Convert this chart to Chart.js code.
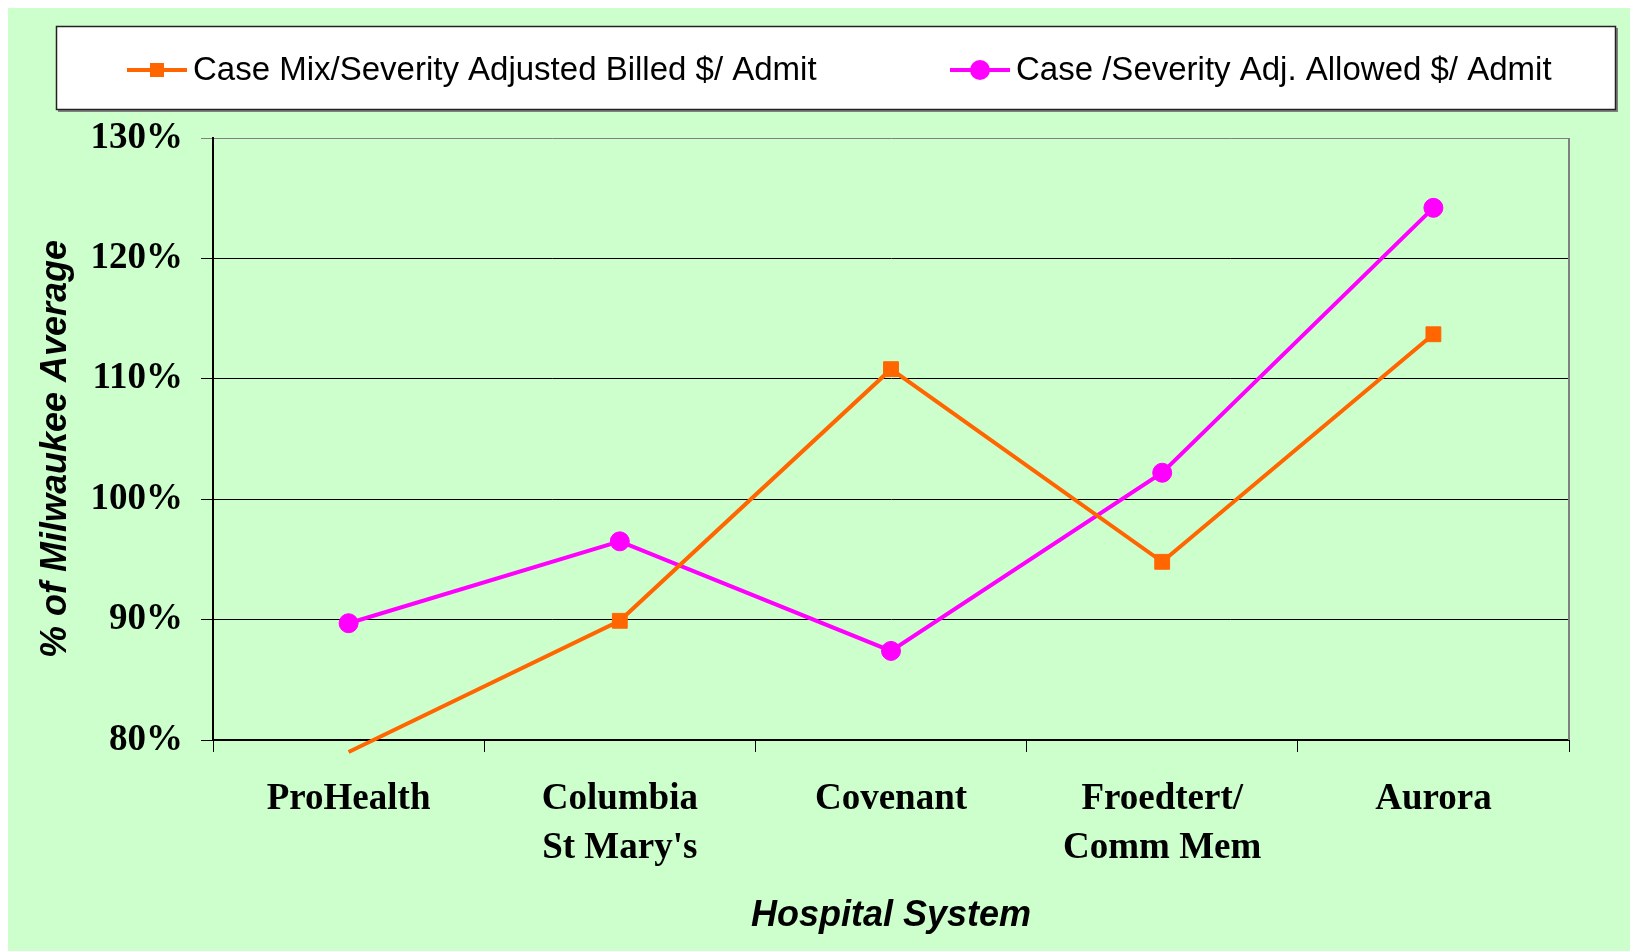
<!DOCTYPE html>
<html lang="en">
<head>
<meta charset="UTF-8" />
<title>Hospital System - % of Milwaukee Average</title>
<script src="https://cdn.jsdelivr.net/npm/chart.js"></script>
<style>
  html, body { margin: 0; padding: 0; background: #fff; }
  canvas { display: block; }
</style>
</head>
<body>
<canvas id="chart" width="1630" height="951"></canvas>
<script>
// data (% of Milwaukee average)
const hospitals = ["ProHealth", ["Columbia", "St Mary's"], "Covenant", ["Froedtert/", "Comm Mem"], "Aurora"];
const billedPerAdmit = [79.0, 89.9, 110.8, 94.8, 113.7];
const allowedPerAdmit = [89.7, 96.5, 87.4, 102.2, 124.2];
const yTicks = [80, 90, 100, 110, 120, 130];
const seriesNames = ["Case Mix/Severity Adjusted Billed $/ Admit", "Case /Severity Adj. Allowed $/ Admit"];

const GREEN = "#CCFFCC";
const ORANGE = "#FF6600";
const MAGENTA = "#FF00FF";
const serif = "'Liberation Serif', 'Times New Roman', serif";
const sans = "'Liberation Sans', Arial, sans-serif";

Chart.defaults.color = "#000";

// green page + grey plot border on the right
const background = {
  id: "background",
  beforeDraw(chart) {
    const ctx = chart.ctx;
    ctx.save();
    ctx.fillStyle = "#fff";
    ctx.fillRect(0, 0, chart.width, chart.height);
    ctx.fillStyle = GREEN;
    ctx.fillRect(8, 8, chart.width - 8, chart.height - 8);
    ctx.restore();
  },
  beforeDatasetsDraw(chart) {
    const { ctx, chartArea } = chart;
    ctx.save();
    ctx.strokeStyle = "#808080";
    ctx.lineWidth = 2;
    ctx.beginPath();
    ctx.moveTo(chartArea.right, chartArea.top);
    ctx.lineTo(chartArea.right, chartArea.bottom);
    ctx.stroke();
    ctx.restore();
  }
};

// boxed legend across the top, line + marker like the original
const legendBox = {
  id: "legendBox",
  afterDraw(chart) {
    const ctx = chart.ctx;
    ctx.save();
    ctx.fillStyle = "#808080";
    ctx.fillRect(58, 28, 1560, 84);
    ctx.fillStyle = "#fff";
    ctx.fillRect(56, 26, 1560, 84);
    ctx.strokeStyle = "#222";
    ctx.lineWidth = 1.5;
    ctx.strokeRect(56.5, 26.5, 1559, 83);

    const starts = [127, 950];
    const y = 70;
    chart.data.datasets.forEach((ds, i) => {
      const x = starts[i];
      ctx.strokeStyle = ds.borderColor;
      ctx.lineWidth = 4;
      ctx.beginPath();
      ctx.moveTo(x, y);
      ctx.lineTo(x + 60, y);
      ctx.stroke();
      ctx.fillStyle = ds.borderColor;
      if (ds.pointStyle === "rect") {
        ctx.fillRect(x + 23, y - 7, 14, 14);
      } else {
        ctx.beginPath();
        ctx.arc(x + 30, y, 10, 0, Math.PI * 2);
        ctx.fill();
      }
      ctx.fillStyle = "#000";
      ctx.font = "33px " + sans;
      ctx.textBaseline = "middle";
      ctx.textAlign = "left";
      ctx.fillText(ds.label, x + 66, y + 1);
    });
    ctx.restore();
  }
};

new Chart(document.getElementById("chart"), {
  type: "line",
  data: {
    labels: hospitals,
    datasets: [
      {
        label: seriesNames[0],
        data: billedPerAdmit,
        borderColor: ORANGE,
        backgroundColor: ORANGE,
        borderWidth: 4,
        pointStyle: "rect",
        pointRadius: billedPerAdmit.map(v => v < 80 ? 0 : 10.5),
        pointBorderWidth: 1,
        tension: 0,
        clip: { left: 10, top: 10, right: 10, bottom: 14 }
      },
      {
        label: seriesNames[1],
        data: allowedPerAdmit,
        borderColor: MAGENTA,
        backgroundColor: MAGENTA,
        borderWidth: 4,
        pointStyle: "circle",
        pointRadius: 9.5,
        pointBorderWidth: 1,
        tension: 0,
        clip: 12
      }
    ]
  },
  options: {
    responsive: false,
    animation: false,
    devicePixelRatio: 1,
    layout: { padding: { left: 8, top: 138, right: 61, bottom: 0 } },
    plugins: {
      legend: { display: false },
      tooltip: { enabled: false }
    },
    scales: {
      x: {
        offset: true,
        afterFit: s => { s.height = 211; },
        grid: { offset: true, drawOnChartArea: false, tickLength: 12, color: "#000", lineWidth: 1 },
        border: { color: "#000", width: 2 },
        ticks: {
          padding: 23,
          maxRotation: 0,
          autoSkip: false,
          font: { family: serif, size: 37, weight: "bold", lineHeight: 1.33 }
        },
        title: {
          display: true,
          text: "Hospital System",
          padding: { top: 0, bottom: 13 },
          font: { family: sans, size: 36, weight: "bold", style: "italic" }
        }
      },
      y: {
        min: 80,
        max: 130,
        afterFit: s => { s.width = 205; },
        afterBuildTicks: s => { s.ticks = yTicks.map(v => ({ value: v })); },
        grid: {
          tickLength: 12,
          color: c => c.tick && c.tick.value === 130 ? "#808080" : "#000",
          lineWidth: 1
        },
        border: { color: "#000", width: 2 },
        ticks: {
          padding: 18,
          callback: v => v + "%",
          font: { family: serif, size: 37, weight: "bold" }
        },
        title: {
          display: true,
          // trailing spaces nudge the rotated title down a little, as in the original
          text: "% of Milwaukee Average  ",
          padding: { top: 26, bottom: 0 },
          font: { family: sans, size: 36, weight: "bold", style: "italic" }
        }
      }
    }
  },
  plugins: [background, legendBox]
});
</script>
</body>
</html>
